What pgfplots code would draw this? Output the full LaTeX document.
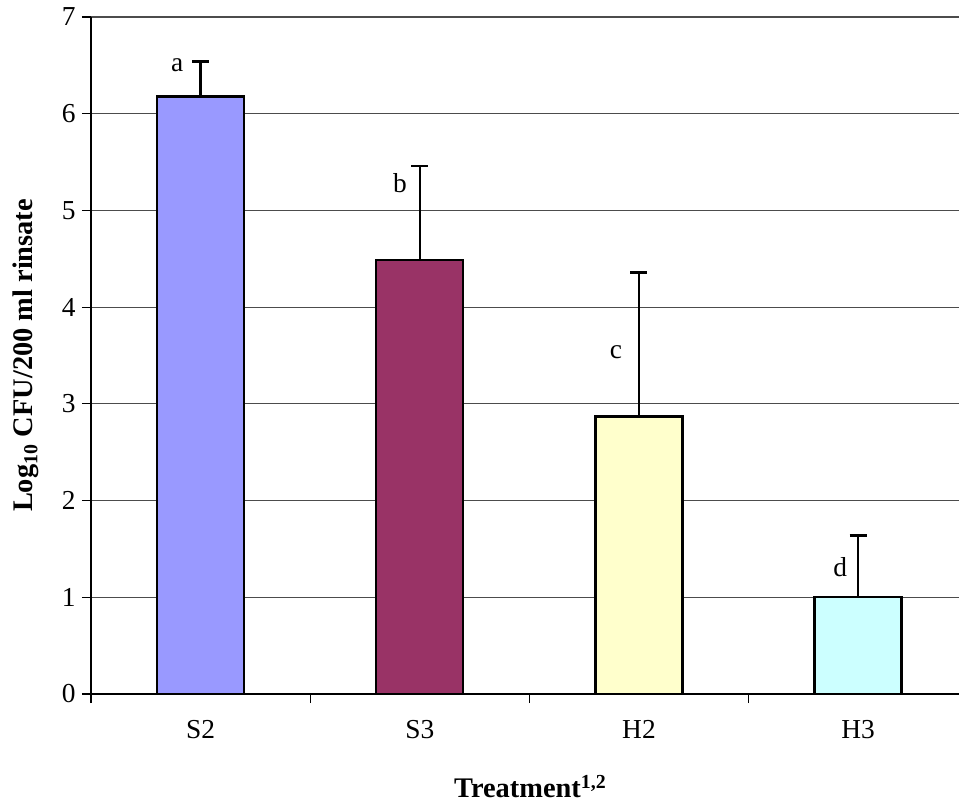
\documentclass[border=0pt]{standalone}
\usepackage{pgfplots}
\pgfplotsset{compat=1.18}
\usepackage{fontspec}
\setmainfont{Liberation Serif}
\definecolor{cS2}{HTML}{9999FF}
\definecolor{cS3}{HTML}{993366}
\definecolor{cH2}{HTML}{FFFFCC}
\definecolor{cH3}{HTML}{CCFFFF}
\begin{document}
\begin{tikzpicture}
\useasboundingbox (-91bp,-112bp) rectangle (868bp,694bp);
\begin{axis}[
  scale only axis,
  width=868bp, height=677bp,
  xmin=-0.5, xmax=3.46, ymin=0, ymax=7,
  axis x line*=bottom, axis y line*=left,
  axis line style={line width=1.2bp, -},
  ytick={0,1,...,7},
  ymajorgrids,
  major grid style={line width=1.1bp, black!70},
  xtick={-0.5,0.5,1.5,2.5},
  xticklabels={},
  extra x ticks={0,1,2,3},
  extra x tick labels={S2,S3,H2,H3},
  extra x tick style={major tick length=0pt, xmajorgrids=false,
     xticklabel style={yshift=-23bp}},
  tick align=outside,
  major tick length=9bp,
  tick style={line width=1.2bp, black},
  ticklabel style={font=\fontsize{27.5}{32}\selectfont},
  yticklabel style={xshift=-3bp},
  /pgf/number format/assume math mode=true,
  ylabel={\textbf{Log\textsubscript{10} CFU/200 ml rinsate}},
  ylabel style={at={(axis description cs:-0.075,0.5)}, anchor=center, rotate=0, font=\fontsize{28.5}{32}\selectfont},
  xlabel={\textbf{Treatment\textsuperscript{1,2}}},
  xlabel style={at={(axis description cs:0.506,-0.136)}, anchor=center, font=\fontsize{28.5}{32}\selectfont},
  ybar, bar width=87bp,
  error bars/y dir=plus, error bars/y explicit,
  error bars/error mark options={rotate=90, mark size=8.5bp, line width=2.4bp},
  error bars/error bar style={line width=2.2bp, black},
  clip=false,
]
\addplot[bar shift=0pt, fill=cS2, draw=black, line width=2.4bp] coordinates {(0,6.18) +- (0,0.36)};
\addplot[bar shift=0pt, fill=cS3, draw=black, line width=2.4bp] coordinates {(1,4.49) +- (0,0.97)};
\addplot[bar shift=0pt, fill=cH2, draw=black, line width=2.4bp] coordinates {(2,2.87) +- (0,1.49)};
\addplot[bar shift=0pt, fill=cH3, draw=black, line width=2.4bp] coordinates {(3,1.00) +- (0,0.64)};
\node[font=\fontsize{27.5}{32}\selectfont] at (axis cs:-0.107,6.50) {a};
\node[font=\fontsize{27.5}{32}\selectfont] at (axis cs:0.91,5.28) {b};
\node[font=\fontsize{27.5}{32}\selectfont] at (axis cs:1.895,3.53) {c};
\node[font=\fontsize{27.5}{32}\selectfont] at (axis cs:2.918,1.31) {d};
\end{axis}
\end{tikzpicture}
\end{document}
